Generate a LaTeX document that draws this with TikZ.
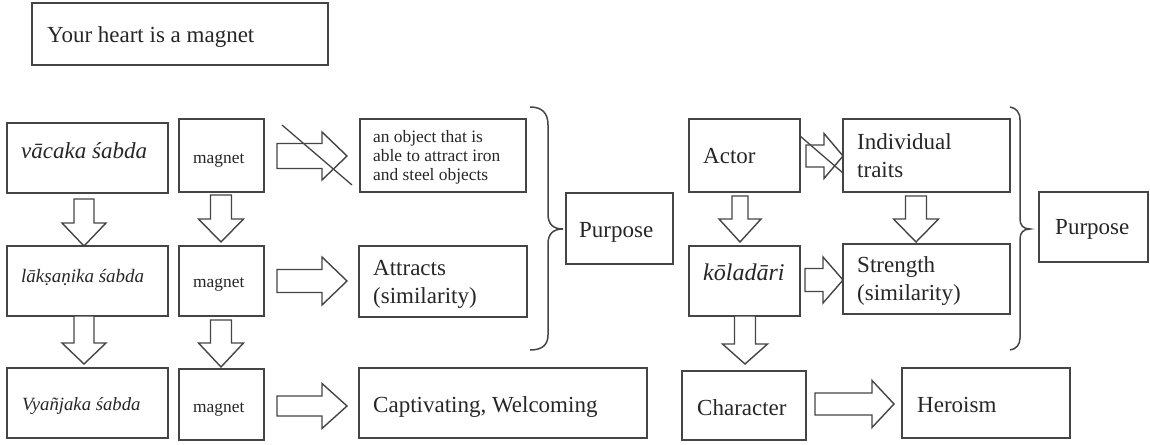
\documentclass[tikz,border=0pt]{standalone}
\usepackage{fontspec}
\setmainfont{Liberation Serif}
\usetikzlibrary{fit}
\definecolor{ink}{HTML}{454545}
\definecolor{txtc}{HTML}{262626}
% block arrow pointing right: tail x, head x, tip x, centre y, shaft half height, head half height
\newcommand\rblk[6]{%
  \draw[blk] (#1,#4-#5) -- (#2,#4-#5) -- (#2,#4-#6) -- (#3,#4) -- (#2,#4+#6)
    -- (#2,#4+#5) -- (#1,#4+#5) -- cycle;}
% block arrow pointing down: centre x, top y, head y, tip y, shaft half width, head half width
\newcommand\dblk[6]{%
  \draw[blk] (#1-#5,#2) -- (#1+#5,#2) -- (#1+#5,#3) -- (#1+#6,#3) -- (#1,#4)
    -- (#1-#6,#3) -- (#1-#5,#3) -- cycle;}
\begin{document}
\begin{tikzpicture}[x=1pt,y=-1pt,
  box/.style={draw=ink, line width=1.5pt, inner sep=0pt},
  % multi-line labels are placed by the baseline of their last line
  lbl/.style={anchor=base west, inner sep=0pt, text=txtc, align=left},
  big/.style={font=\fontsize{23}{27.5}\selectfont},
  bigit/.style={font=\fontsize{23}{27.5}\selectfont\itshape},
  small/.style={font=\fontsize{17.4}{19}\selectfont},
  blk/.style={draw=ink, line width=1.4pt, fill=white, line join=miter},
  cross/.style={draw=ink, line width=1.3pt},
  brc/.style={draw=ink, line width=1.5pt}]
\useasboundingbox (0,0) rectangle (1150,444);

% boxes
\node[box, fit={(32,3) (328,65)}] (title) {};
\node[box, fit={(7,123) (168,193)}] (vac) {};
\node[box, fit={(7,246) (168,316)}] (lak) {};
\node[box, fit={(7,368) (168,438)}] (vya) {};
\node[box, fit={(179,119) (264,192)}] (mag1) {};
\node[box, fit={(179,246) (264,316)}] (mag2) {};
\node[box, fit={(179,369) (264,440)}] (mag3) {};
\node[box, fit={(360,119) (526,192)}] (obj) {};
\node[box, fit={(359,246) (527,317)}] (attr) {};
\node[box, fit={(359,368) (647,438)}] (capt) {};
\node[box, fit={(566,193) (673,264)}] (purp1) {};
\node[box, fit={(689,119) (800,192)}] (actor) {};
\node[box, fit={(689,246) (800,316)}] (kol) {};
\node[box, fit={(682,371) (806,440)}] (char) {};
\node[box, fit={(843,119) (1010,192)}] (trait) {};
\node[box, fit={(843,244) (1010,314)}] (stren) {};
\node[box, fit={(902,368) (1070,438)}] (hero) {};
\node[box, fit={(1039,192) (1148,262)}] (purp2) {};

% texts
\node[lbl, big] (title-t) at (47,42) {Your heart is a magnet};
\node[lbl, bigit] (vac-t) at (21,158) {vācaka śabda};
\node[lbl, font=\fontsize{19}{22}\selectfont\itshape] (lak-t) at (21,282) {lākṣaṇika śabda};
\node[lbl, font=\fontsize{18.7}{22}\selectfont\itshape] (vya-t) at (22,410) {Vyañjaka śabda};
\node[lbl, small] (mag1-t) at (193,163) {magnet};
\node[lbl, small] (mag2-t) at (193,287) {magnet};
\node[lbl, small] (mag3-t) at (193,412) {magnet};
\node[lbl, small] (obj-t) at (373,180) {an object that is\\able to attract iron\\and steel objects};
\node[lbl, big] (attr-t) at (373,303) {Attracts\\(similarity)};
\node[lbl, big] (capt-t) at (373,412) {Captivating, Welcoming};
\node[lbl, big] (purp1-t) at (579,237) {Purpose};
\node[lbl, big] (actor-t) at (703,163) {Actor};
\node[lbl, big] (trait-t) at (857,177) {Individual\\traits};
\node[lbl, font=\fontsize{24}{28}\selectfont\itshape] (kol-t) at (703,280) {kōladāri};
\node[lbl, big] (stren-t) at (857,300) {Strength\\(similarity)};
\node[lbl, big] (char-t) at (697,415) {Character};
\node[lbl, big] (hero-t) at (917,412) {Heroism};
\node[lbl, big] (purp2-t) at (1055,234) {Purpose};

% block arrows, left group
\dblk{84}{199}{223}{246}{10}{22}
\dblk{221}{195}{219}{242}{10.5}{22.5}
\dblk{84}{316}{343}{364}{10}{22}
\dblk{221}{320}{343}{367}{10.5}{22.5}
\rblk{277}{322}{347}{156}{12.5}{24}
\rblk{277}{322}{347}{281}{11.5}{24}
\rblk{277}{322}{347}{406}{10}{22.5}
\draw[cross] (282,125) -- (352,185);

% block arrows, right group
\dblk{740}{196}{219}{242}{8}{21}
\dblk{916}{196}{219}{242}{10.5}{22.5}
\dblk{745}{316}{344}{364}{10.5}{22.5}
\rblk{806}{824}{843}{156}{11}{22.5}
\rblk{805}{823}{843}{280}{11.5}{23}
\rblk{815}{872}{894}{404}{11}{23.5}
\draw[cross] (800,136) -- (843,173);

% braces
\draw[brc] (530,107) .. controls (542,107) and (548,113) .. (548,125) -- (548,214)
  .. controls (548,224) and (553,229) .. (563,229)
  .. controls (553,229) and (548,234) .. (548,244) -- (548,335)
  .. controls (548,345) and (542,350) .. (530,350);
\draw[brc] (1010,107) .. controls (1016,108) and (1020,112) .. (1020,120) -- (1020,219)
  .. controls (1020,225) and (1023,229) .. (1030,229)
  .. controls (1023,229) and (1020,233) .. (1020,239) -- (1020,338)
  .. controls (1020,345) and (1016,349) .. (1010,350);
\end{tikzpicture}
\end{document}
